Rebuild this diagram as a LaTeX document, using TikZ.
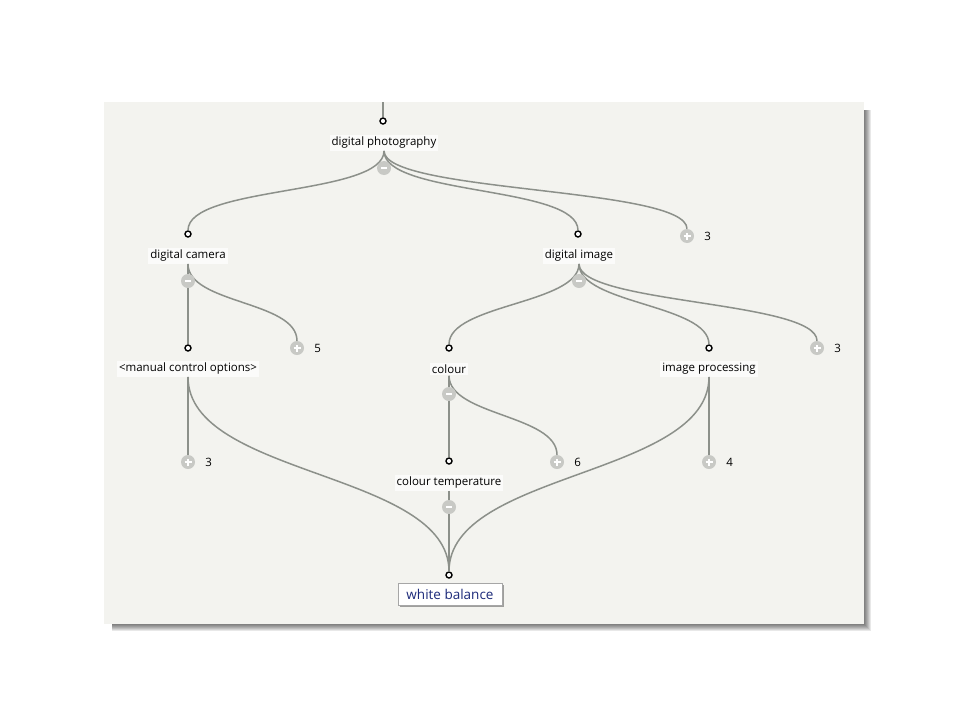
\documentclass[tikz,border=0pt]{standalone}
\usepackage{fontspec}
\setmainfont{Open Sans}
\usetikzlibrary{positioning,calc,shadows}
\definecolor{paper}{HTML}{F3F3EF}
\definecolor{wirecol}{HTML}{8C908A}
\definecolor{knob}{HTML}{C8C9C5}
\definecolor{navy}{HTML}{1C2A7A}

\begin{document}
\begin{tikzpicture}[x=1pt,y=-1pt,
    wire/.style={draw=wirecol, line width=1.5pt},
    hook/.style={circle, draw=black, fill=white, line width=1.4pt, inner sep=0pt, minimum size=6pt},
    term/.style={fill=paper!30!white, inner sep=2pt, text=black, font=\fontsize{11.5}{13}\selectfont},
    fold/.style={circle, fill=knob, inner sep=0pt, minimum size=14pt},
    minus/.style={fold, path picture={\draw[white, line width=1.6pt]
        ([xshift=-3pt]path picture bounding box.center) -- ([xshift=3pt]path picture bounding box.center);}},
    plus/.style={fold, path picture={\draw[white, line width=1.6pt]
        ([xshift=-3.5pt]path picture bounding box.center) -- ([xshift=3.5pt]path picture bounding box.center)
        ([yshift=-3.5pt]path picture bounding box.center) -- ([yshift=3.5pt]path picture bounding box.center);}},
    count/.style={anchor=west, inner sep=1pt, text=black, font=\fontsize{11.5}{13}\selectfont},
    focus/.style={draw=black!35, fill=white, line width=0.5pt, minimum width=104pt, minimum height=22pt,
        inner sep=0pt, text=navy, font=\fontsize{13.5}{15}\selectfont,
        drop shadow={shadow xshift=1.5pt, shadow yshift=-1.5pt, fill=black!60, opacity=0.6}}]

\useasboundingbox (0,0) rectangle (960,720);
\fill[white] (0,0) rectangle (960,720);
\foreach \s in {1,...,11}
  \fill[black, opacity=0.09] (112,110) rectangle (860+\s,620+\s);
\fill[paper] (104,102) rectangle (864,624);

% tree
\coordinate (top) at (383,102);
\node[hook] (dph) at (383,121) {};
\node[term] (dp) at (384,143) {digital photography};

\node[hook] (camh) at (188,234) {};
\node[term] (cam) at (188,256) {digital camera};
\node[hook] (imgh) at (578,234) {};
\node[term] (img) at (579,256) {digital image};
\node[plus] (p1) at (687,236) {};
\node[count] (n1) at ([xshift=9pt]p1.east) {3};

\node[hook] (manh) at (188,348) {};
\node[term] (man) at (188,369) {<manual control options>};
\node[plus] (p2) at (297,348) {};
\node[count] (n2) at ([xshift=9pt]p2.east) {5};
\node[hook] (colh) at (449,348) {};
\node[term] (col) at (449,369) {colour};
\node[hook] (proch) at (709,348) {};
\node[term] (proc) at (709,369) {image processing};
\node[plus] (p3) at (817,348) {};
\node[count] (n3) at ([xshift=9pt]p3.east) {3};

\node[plus] (p4) at (188,462) {};
\node[count] (n4) at ([xshift=9pt]p4.east) {3};
\node[hook] (temph) at (449,461) {};
\node[term] (temp) at (449,483) {colour temperature};
\node[plus] (p5) at (557,462) {};
\node[count] (n5) at ([xshift=9pt]p5.east) {6};
\node[plus] (p6) at (709,462) {};
\node[count] (n6) at ([xshift=9pt]p6.east) {4};

\node[hook] (wbh) at (449,575) {};
\node[focus] (wb) at (450,594) {white balance};

\draw[wire] (top) -- (dph.north);
\foreach \a/\b/\h in {dp/camh/45, dp/imgh/45, dp/p1/42,
    cam/manh/30, cam/p2/40,
    img/colh/40, img/proch/40, img/p3/40,
    man/p4/30, col/temph/30, col/p5/40, proc/p6/30,
    man/wbh/100, temp/wbh/40, proc/wbh/100}
  \draw[wire] (\a.south) .. controls +(0,\h) and +(0,-\h) .. (\b.north);

\node[minus] (dpm) at (384,168) {};
\node[minus] (camm) at (188,281) {};
\node[minus] (imgm) at (579,281) {};
\node[minus] (colm) at (449,394) {};
\node[minus] (tempm) at (449,507) {};
\end{tikzpicture}
\end{document}
